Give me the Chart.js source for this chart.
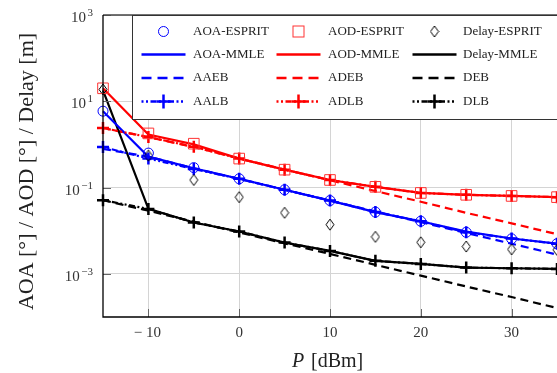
<!DOCTYPE html>
<html>
<head>
<meta charset="utf-8">
<script src="https://cdn.jsdelivr.net/npm/chart.js@4/dist/chart.umd.min.js"></script>
<style>
  html, body { margin: 0; padding: 0; background: #fff; }
</style>
</head>
<body>
<canvas id="c" width="557" height="373"></canvas>
<script>
// transmit power [dBm]
const power = [-15, -10, -5, 0, 5, 10, 15, 20, 25, 30, 35];

// estimators
const aoaEsprit   = [5.9, 0.63, 0.29, 0.16, 0.089, 0.050, 0.027, 0.0166, 0.0092, 0.0065, 0.0050];
const aodEsprit   = [20, 1.8, 1.04, 0.47, 0.26, 0.15, 0.104, 0.075, 0.068, 0.064, 0.060];
const delayEsprit = [18.8, 0.55, 0.15, 0.060, 0.026, 0.0138, 0.0072, 0.0054, 0.0043, 0.0037, 0.0036];
const aoaMmle     = [5.9, 0.52, 0.28, 0.16, 0.089, 0.050, 0.027, 0.0166, 0.0095, 0.0066, 0.0050];
const aodMmle     = [20, 1.7, 1.0, 0.47, 0.26, 0.15, 0.104, 0.075, 0.068, 0.064, 0.060];
const delayMmle   = [18, 0.032, 0.0155, 0.0096, 0.0053, 0.0034, 0.0020, 0.0017, 0.0014, 0.00135, 0.0013];

// bounds
const aaeb = [0.79, 0.52, 0.28, 0.158, 0.089, 0.050, 0.028, 0.0158, 0.0089, 0.0050, 0.0028];
const adeb = [2.4, 1.48, 0.87, 0.47, 0.263, 0.148, 0.083, 0.047, 0.026, 0.0148, 0.0083];
const deb  = [0.051, 0.029, 0.0162, 0.0091, 0.0051, 0.0029, 0.00162, 0.00091, 0.00051, 0.00029, 0.000162];
const aalb = [0.87, 0.47, 0.27, 0.16, 0.089, 0.050, 0.027, 0.0166, 0.0092, 0.0066, 0.0050];
const adlb = [2.4, 1.48, 0.88, 0.47, 0.26, 0.15, 0.104, 0.075, 0.068, 0.064, 0.060];
const dlb  = [0.051, 0.032, 0.0155, 0.0096, 0.0053, 0.0034, 0.0020, 0.0017, 0.0014, 0.00135, 0.0013];

const xTicks = [-10, 0, 10, 20, 30];
const yTicks = [1e-3, 1e-1, 1e1, 1e3];
const yTickExp = ["\u22123", "\u22121", "1", "3"];

const BLUE = "#0000ff", RED = "#ff0000", BLACK = "#000000";
const SERIF = "'Liberation Serif', 'DejaVu Serif', serif";
const DASH = [8, 5];
const LBDASH = [2, 2.5, 2, 2.5, 6, 2.5];

function pts(arr) {
    return power.map((p, i) => ({ x: p, y: arr[i] }));
}

// narrow diamond marker like pgfplots "diamond"
function diamondImg() {
    const c = document.createElement("canvas");
    c.width = 10; c.height = 13;
    const g = c.getContext("2d");
    g.strokeStyle = "#000";
    g.lineWidth = 1;
    g.beginPath();
    g.moveTo(5, 1); g.lineTo(9, 6.5); g.lineTo(5, 12); g.lineTo(1, 6.5);
    g.closePath();
    g.stroke();
    return c;
}
const diamond = diamondImg();

function markers(label, data, color, style, radius) {
    return {
        label, data: pts(data), showLine: false,
        pointStyle: style, pointRadius: radius,
        pointBorderColor: color, pointBackgroundColor: "rgba(0,0,0,0)",
        pointBorderWidth: 1, clip: false,
    };
}
function curve(label, data, color, dash, cross) {
    return {
        label, data: pts(data), showLine: true, fill: false,
        borderColor: color, borderWidth: 2.2, borderDash: dash || [],
        pointStyle: "cross", pointRadius: cross ? 6 : 0,
        pointBorderColor: color, pointBorderWidth: 2.5,
        tension: 0, clip: false,
    };
}

const datasets = [
    markers("AOA-ESPRIT", aoaEsprit, BLUE, "circle", 5),
    markers("AOD-ESPRIT", aodEsprit, "#ff3333", "rect", 7.5),
    markers("Delay-ESPRIT", delayEsprit, BLACK, diamond, 6),
    curve("AALB", aalb, BLUE, LBDASH, true),
    curve("ADLB", adlb, RED, LBDASH, true),
    curve("DLB", dlb, BLACK, LBDASH, true),
    curve("AOA-MMLE", aoaMmle, BLUE),
    curve("AOD-MMLE", aodMmle, RED),
    curve("Delay-MMLE", delayMmle, BLACK),
    curve("AAEB", aaeb, BLUE, DASH),
    curve("ADEB", adeb, RED, DASH),
    curve("DEB", deb, BLACK, DASH),
];

// legend layout: 3 columns x 4 rows
const legendRows = [
    [["AOA-ESPRIT", "circle", BLUE], ["AOD-ESPRIT", "square", RED], ["Delay-ESPRIT", "diamond", BLACK]],
    [["AOA-MMLE", "solid", BLUE], ["AOD-MMLE", "solid", RED], ["Delay-MMLE", "solid", BLACK]],
    [["AAEB", "dash", BLUE], ["ADEB", "dash", RED], ["DEB", "dash", BLACK]],
    [["AALB", "lb", BLUE], ["ADLB", "lb", RED], ["DLB", "lb", BLACK]],
];

function drawCross(ctx, x, y, r, color) {
    ctx.save();
    ctx.setLineDash([]);
    ctx.strokeStyle = color;
    ctx.lineWidth = 2.5;
    ctx.beginPath();
    ctx.moveTo(x - r, y); ctx.lineTo(x + r, y);
    ctx.moveTo(x, y - r); ctx.lineTo(x, y + r);
    ctx.stroke();
    ctx.restore();
}

const decor = {
    id: "decor",
    afterDatasetsDraw(chart) {
        const ctx = chart.ctx;
        const a = chart.chartArea;
        const xs = chart.scales.x, ys = chart.scales.y;
        ctx.save();

        // inner tick marks
        ctx.strokeStyle = "#666";
        ctx.lineWidth = 1;
        ctx.beginPath();
        xTicks.forEach(v => {
            const px = Math.round(xs.getPixelForValue(v)) + 0.5;
            ctx.moveTo(px, a.bottom); ctx.lineTo(px, a.bottom - 8);
        });
        yTicks.forEach(v => {
            const py = Math.round(ys.getPixelForValue(v)) + 0.5;
            ctx.moveTo(a.left, py); ctx.lineTo(a.left + 8, py);
        });
        ctx.stroke();

        // frame
        ctx.strokeStyle = "#444";
        ctx.lineWidth = 1.5;
        ctx.beginPath();
        ctx.moveTo(a.left, a.top); ctx.lineTo(a.right + 5, a.top);
        ctx.stroke();
        ctx.strokeStyle = "#000";
        ctx.lineWidth = 1.3;
        ctx.beginPath();
        ctx.moveTo(a.left, a.top); ctx.lineTo(a.left, a.bottom); ctx.lineTo(a.right + 5, a.bottom);
        ctx.stroke();

        // legend box
        const bx = 132, by = 15, bw = 440, bh = 104;
        ctx.fillStyle = "#fff";
        ctx.fillRect(bx, by, bw, bh);
        ctx.strokeStyle = "#333";
        ctx.lineWidth = 1;
        ctx.strokeRect(bx + 0.5, by + 0.5, bw, bh);

        const colX = [163.5, 298.5, 434.5];
        const textX = [193, 328, 463];
        const rowY = [31.5, 54.5, 78, 101.5];
        ctx.font = "13px " + SERIF;
        ctx.textBaseline = "middle";
        ctx.textAlign = "left";
        legendRows.forEach((row, r) => {
            row.forEach((item, c) => {
                const [label, kind, color] = item;
                const cx = colX[c], cy = rowY[r];
                ctx.save();
                ctx.strokeStyle = color;
                if (kind === "circle") {
                    ctx.lineWidth = 1;
                    ctx.beginPath();
                    ctx.arc(cx, cy, 5, 0, Math.PI * 2);
                    ctx.stroke();
                } else if (kind === "square") {
                    ctx.strokeStyle = "#ff3333";
                    ctx.lineWidth = 1;
                    ctx.strokeRect(cx - 5.5, cy - 5.5, 11, 11);
                } else if (kind === "diamond") {
                    ctx.drawImage(diamond, cx - 5, cy - 6.5);
                } else {
                    ctx.lineWidth = 2.4;
                    ctx.setLineDash(kind === "dash" ? [10, 6] : kind === "lb" ? LBDASH : []);
                    ctx.beginPath();
                    ctx.moveTo(cx - 22, cy); ctx.lineTo(cx + 22, cy);
                    ctx.stroke();
                    if (kind === "lb") drawCross(ctx, cx, cy, 7, color);
                }
                ctx.restore();
                ctx.fillStyle = "#222";
                ctx.fillText(label, textX[c], cy);
            });
        });
        ctx.restore();
    },
    afterDraw(chart) {
        const ctx = chart.ctx;
        const xs = chart.scales.x, ys = chart.scales.y;
        ctx.save();
        ctx.fillStyle = "#333";

        // x tick labels
        ctx.font = "15px " + SERIF;
        ctx.textAlign = "center";
        ctx.textBaseline = "alphabetic";
        xTicks.forEach(v => {
            const s = v < 0 ? "\u2212 " + Math.abs(v) : String(v);
            ctx.fillText(s, xs.getPixelForValue(v) - (v < 0 ? 1 : 0), 337);
        });

        // y tick labels 10^k
        ctx.textAlign = "left";
        yTicks.forEach((v, i) => {
            const py = ys.getPixelForValue(v);
            ctx.font = "15px " + SERIF;
            const wb = ctx.measureText("10").width;
            ctx.font = "11px " + SERIF;
            const we = ctx.measureText(yTickExp[i]).width;
            const x0 = 93 - wb - we - 1.5;
            ctx.font = "15px " + SERIF;
            ctx.fillText("10", x0, py + 7);
            ctx.font = "11px " + SERIF;
            ctx.fillText(yTickExp[i], x0 + wb + 1.5, py + 1);
        });

        // axis titles
        ctx.fillStyle = "#222";
        ctx.font = "italic 20px " + SERIF;
        ctx.fillText("P", 292, 367);
        ctx.font = "20px " + SERIF;
        ctx.fillText("[dBm]", 311, 367);

        ctx.translate(33, 171.5);
        ctx.rotate(-Math.PI / 2);
        ctx.textAlign = "center";
        ctx.font = "22px " + SERIF;
        ctx.fillText("AOA [\u00b0] / AOD [\u00b0] / Delay [m]", 0, 0);
        ctx.restore();
    },
};

new Chart(document.getElementById("c"), {
    type: "scatter",
    data: { datasets },
    options: {
        responsive: false,
        animation: false,
        devicePixelRatio: 1,
        layout: { autoPadding: false, padding: { top: 15, left: 0, right: -1, bottom: 0 } },
        plugins: { legend: { display: false }, tooltip: { enabled: false } },
        scales: {
            x: {
                type: "linear", min: -15, max: 35,
                afterBuildTicks: s => { s.ticks = xTicks.map(v => ({ value: v })); },
                afterFit: s => { s.height = 56; },
                ticks: { display: false },
                grid: { color: "#d4d4d4", lineWidth: 1, drawTicks: false },
                border: { display: false },
            },
            y: {
                type: "logarithmic", min: 1e-4, max: 1e3,
                afterBuildTicks: s => { s.ticks = yTicks.map(v => ({ value: v })); },
                afterFit: s => { s.width = 103; },
                ticks: { display: false },
                grid: { color: "#d4d4d4", lineWidth: 1, drawTicks: false },
                border: { display: false },
            },
        },
    },
    plugins: [decor],
});
</script>
</body>
</html>
